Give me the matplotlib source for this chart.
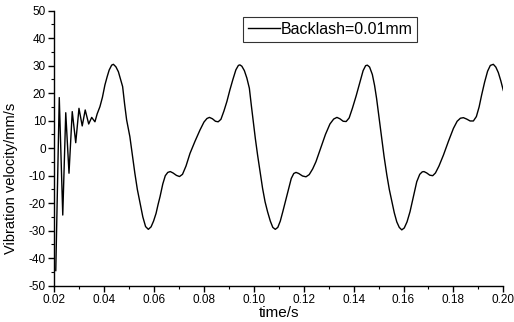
import matplotlib
matplotlib.use("Agg")
import matplotlib.pyplot as plt
from matplotlib.ticker import MultipleLocator, FuncFormatter

plt.rcParams['font.family'] = ['Liberation Sans', 'DejaVu Sans']

time_s = [
    0.0206, 0.0220, 0.0234, 0.0246, 0.0259, 0.0272, 0.0286, 0.0299, 0.0312, 0.0324,
    0.0338, 0.0350, 0.0363, 0.0372, 0.0383, 0.0393, 0.0403, 0.0412, 0.0420, 0.0430,
    0.0437, 0.0447, 0.0457, 0.0466, 0.0474, 0.0482, 0.0490, 0.0503, 0.0513, 0.0523,
    0.0533, 0.0544, 0.0555, 0.0566, 0.0577, 0.0588, 0.0598, 0.0608, 0.0616, 0.0624,
    0.0635, 0.0645, 0.0655, 0.0665, 0.0676, 0.0690, 0.0702, 0.0714, 0.0728, 0.0744,
    0.0764, 0.0784, 0.0800, 0.0812, 0.0822, 0.0834, 0.0846, 0.0857, 0.0868, 0.0880,
    0.0892, 0.0904, 0.0916, 0.0928, 0.0938, 0.0944, 0.0952, 0.0962, 0.0972, 0.0982,
    0.0990, 0.0998, 0.1006, 0.1015, 0.1025, 0.1035, 0.1045, 0.1055, 0.1066, 0.1076,
    0.1086, 0.1096, 0.1106, 0.1116, 0.1128, 0.1140, 0.1150, 0.1160, 0.1169, 0.1180,
    0.1195, 0.1209, 0.1222, 0.1236, 0.1249, 0.1268, 0.1287, 0.1305, 0.1320, 0.1333,
    0.1345, 0.1358, 0.1370, 0.1382, 0.1395, 0.1410, 0.1425, 0.1438, 0.1448, 0.1455,
    0.1464, 0.1475, 0.1484, 0.1492, 0.1502, 0.1512, 0.1522, 0.1533, 0.1543, 0.1553,
    0.1563, 0.1573, 0.1583, 0.1593, 0.1603, 0.1614, 0.1626, 0.1640, 0.1653, 0.1665,
    0.1675, 0.1682, 0.1693, 0.1705, 0.1717, 0.1728, 0.1742, 0.1760, 0.1780, 0.1800,
    0.1815, 0.1828, 0.1840, 0.1853, 0.1867, 0.1880, 0.1892, 0.1903, 0.1913, 0.1925,
    0.1937, 0.1948, 0.1960, 0.1970, 0.1980, 0.1990, 0.2000,
]
velocity = [
    -44.5, 18.4, -24.3, 12.9, -9.1, 13.3, 2.0, 14.5, 8.1, 13.9,
    8.8, 11.2, 9.6, 12.5, 15.1, 18.5, 23.0, 26.0, 28.4, 30.2,
    30.5, 29.6, 27.8, 25.0, 22.4, 16.0, 10.3, 4.2, -2.5, -9.1,
    -15.0, -20.0, -25.0, -28.5, -29.5, -28.6, -26.5, -23.7, -20.5, -17.6,
    -13.0, -10.0, -8.8, -8.5, -9.0, -9.9, -10.3, -9.5, -6.5, -1.9,
    2.5, 6.6, 9.5, 10.8, 11.2, 10.7, 9.8, 9.6, 10.5, 13.5,
    17.0, 21.2, 25.0, 28.5, 30.1, 30.3, 29.8, 28.2, 25.5, 21.8,
    15.5, 9.6, 3.5, -2.5, -8.5, -14.6, -19.5, -23.1, -26.5, -28.8,
    -29.5, -28.8, -26.5, -23.1, -18.8, -14.6, -11.0, -9.2, -8.8, -9.2,
    -10.1, -10.4, -9.6, -7.5, -4.9, 0.0, 5.0, 8.8, 10.6, 11.2,
    10.7, 9.8, 9.7, 11.0, 14.5, 19.0, 24.0, 28.2, 30.0, 30.2,
    29.5, 26.8, 22.8, 18.1, 11.0, 3.6, -3.0, -9.7, -15.0, -19.3,
    -23.5, -26.8, -28.8, -29.7, -29.0, -26.8, -23.1, -17.5, -12.2, -9.5,
    -8.6, -8.5, -9.0, -9.8, -10.0, -9.0, -6.5, -2.5, 2.5, 7.2,
    9.8, 10.9, 11.1, 10.6, 9.9, 9.9, 11.5, 15.0, 19.3, 24.0,
    28.0, 30.1, 30.5, 29.5, 27.5, 24.5, 21.0,
]
x_ticks = [0.02, 0.04, 0.06, 0.08, 0.10, 0.12, 0.14, 0.16, 0.18, 0.20]
y_ticks = [-50, -40, -30, -20, -10, 0, 10, 20, 30, 40, 50]
series_label = "Backlash=0.01mm"

fig = plt.figure(figsize=(5.14, 3.22), dpi=100)
ax = fig.add_axes([0.1056, 0.1127, 0.8736, 0.8541])
ax.plot(time_s, velocity, color='black', lw=1.0, label=series_label)

ax.set_xlim(0.02, 0.20)
ax.set_ylim(-50, 50)
ax.set_xticks(x_ticks)
ax.set_yticks(y_ticks)
ax.xaxis.set_minor_locator(MultipleLocator(0.01))
ax.yaxis.set_minor_locator(MultipleLocator(5))
ax.xaxis.set_major_formatter(FuncFormatter(lambda v, p: f"{v:.2f}"))
ax.yaxis.set_major_formatter(FuncFormatter(lambda v, p: f"{int(round(v))}"))

for s in ['top', 'right']:
    ax.spines[s].set_visible(False)
for s in ['left', 'bottom']:
    ax.spines[s].set_linewidth(1.0)
ax.tick_params(which='major', direction='out', length=4, width=1.0, labelsize=8.5, pad=2)
ax.tick_params(which='minor', direction='out', length=2.5, width=0.8)

ax.set_xlabel("time/s", fontsize=11, labelpad=0)
ax.set_ylabel("Vibration velocity/mm/s", fontsize=10.5)
ax.yaxis.set_label_coords(-0.08, 0.39)

leg = ax.legend(loc='upper left', bbox_to_anchor=(0.42, 0.977), borderaxespad=0,
                fontsize=11.5, frameon=True, fancybox=False, edgecolor='black',
                handlelength=2.0, handletextpad=0.05, borderpad=0.3)
leg.get_frame().set_linewidth(0.8)

fig.savefig("out.png", dpi=100)
